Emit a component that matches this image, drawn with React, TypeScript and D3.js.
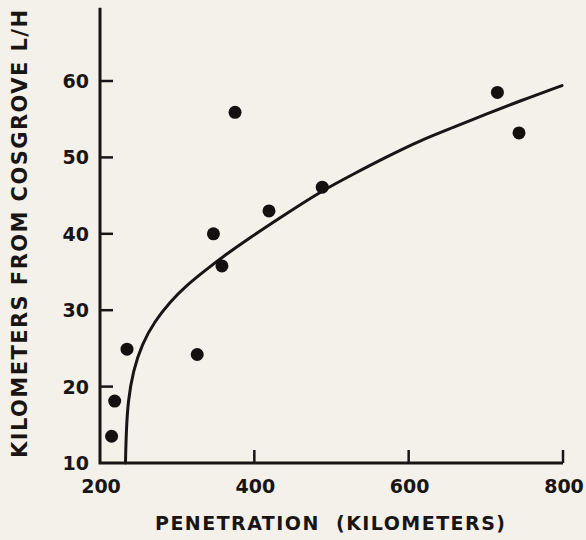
import { useEffect, useRef } from 'react';
import * as d3 from 'd3';

const penetrationKm = [215, 219, 235, 326, 347, 358, 375, 419, 488, 715, 743];
const distanceKm = [13.5, 18.1, 24.9, 24.2, 40.0, 35.8, 55.9, 43.0, 46.1, 58.5, 53.2];

// fitted curve, sampled along the drawn line
const curvePenetration = [233, 234, 236.3, 242.8, 254.4, 271.3, 290.7, 312.7, 336.1, 361.9, 394.4, 433.3, 485.1, 527.9, 571.9, 614.7, 657.5, 701.5, 744.3, 798.7];
const curveDistance = [10, 14.1, 18.1, 22.0, 25.6, 28.6, 31.1, 33.3, 35.2, 37.2, 39.5, 42.1, 45.5, 47.8, 50.1, 52.2, 53.9, 55.7, 57.4, 59.4];

const xTicks = [200, 400, 600, 800];
const yTicks = [10, 20, 30, 40, 50, 60];

const INK = '#1a1515';
const FONT = '"DejaVu Sans", sans-serif';

export default function App() {
  const svgRef = useRef<SVGSVGElement>(null);

  useEffect(() => {
    if (!svgRef.current) return;
    const width = 586;
    const height = 540;

    d3.select(svgRef.current).selectAll('*').remove();
    const svg = d3.select(svgRef.current)
      .attr('width', width)
      .attr('height', height);

    svg.append('rect')
      .attr('width', width)
      .attr('height', height)
      .attr('fill', '#f3f1e9');

    const x = d3.scaleLinear().domain([200, 800]).range([100, 563]);
    const y = d3.scaleLinear().domain([10, 60]).range([463, 81]);

    // axes, ticks pointing inward
    svg.append('path')
      .attr('d', `M${x(200)},${y(69.6)}V${y(10)}H${x(800)}`)
      .attr('fill', 'none')
      .attr('stroke', INK)
      .attr('stroke-width', 3);

    svg.selectAll('.ytick')
      .data(yTicks.filter(d => d > 10))
      .enter()
      .append('line')
      .attr('x1', x(200))
      .attr('x2', x(200) + 13)
      .attr('y1', d => y(d))
      .attr('y2', d => y(d))
      .attr('stroke', INK)
      .attr('stroke-width', 2.5);

    svg.selectAll('.xtick')
      .data(xTicks.filter(d => d > 200))
      .enter()
      .append('line')
      .attr('x1', d => x(d))
      .attr('x2', d => x(d))
      .attr('y1', y(10))
      .attr('y2', y(10) - 13)
      .attr('stroke', INK)
      .attr('stroke-width', 2.5);

    svg.selectAll('.ylabel')
      .data(yTicks)
      .enter()
      .append('text')
      .attr('x', 89)
      .attr('y', d => y(d) + 7)
      .attr('text-anchor', 'end')
      .style('font-family', FONT)
      .style('font-size', '19px')
      .style('font-weight', 'bold')
      .attr('fill', INK)
      .text(d => d);

    svg.selectAll('.xlabel')
      .data(xTicks)
      .enter()
      .append('text')
      .attr('x', d => x(d) + 1)
      .attr('y', 493)
      .attr('text-anchor', 'middle')
      .style('font-family', FONT)
      .style('font-size', '19px')
      .style('font-weight', 'bold')
      .attr('fill', INK)
      .text(d => d);

    // fitted curve
    const line = d3.line<number>()
      .x(d => x(d))
      .y((_, i) => y(curveDistance[i]))
      .curve(d3.curveBasis);

    svg.append('path')
      .datum(curvePenetration)
      .attr('d', line)
      .attr('fill', 'none')
      .attr('stroke', INK)
      .attr('stroke-width', 3)
      .attr('stroke-linecap', 'round');

    svg.selectAll('.dot')
      .data(penetrationKm)
      .enter()
      .append('circle')
      .attr('cx', d => x(d))
      .attr('cy', (_, i) => y(distanceKm[i]))
      .attr('r', 6.5)
      .attr('fill', '#151010');

    svg.append('text')
      .attr('x', 155)
      .attr('y', 530)
      .attr('textLength', 350)
      .attr('lengthAdjust', 'spacing')
      .style('font-family', FONT)
      .style('font-size', '19px')
      .style('font-weight', 'bold')
      .style('white-space', 'pre')
      .attr('fill', INK)
      .text('PENETRATION  (KILOMETERS)');

    svg.append('text')
      .attr('transform', 'translate(27,458) rotate(-90)')
      .attr('textLength', 448)
      .attr('lengthAdjust', 'spacing')
      .style('font-family', FONT)
      .style('font-size', '21px')
      .style('font-weight', 'bold')
      .attr('fill', INK)
      .text('KILOMETERS FROM COSGROVE L/H');
  }, []);

  return (
    <div style={{ position: 'absolute', left: 0, top: 0 }}>
      <svg ref={svgRef} style={{ display: 'block' }}></svg>
    </div>
  );
}
